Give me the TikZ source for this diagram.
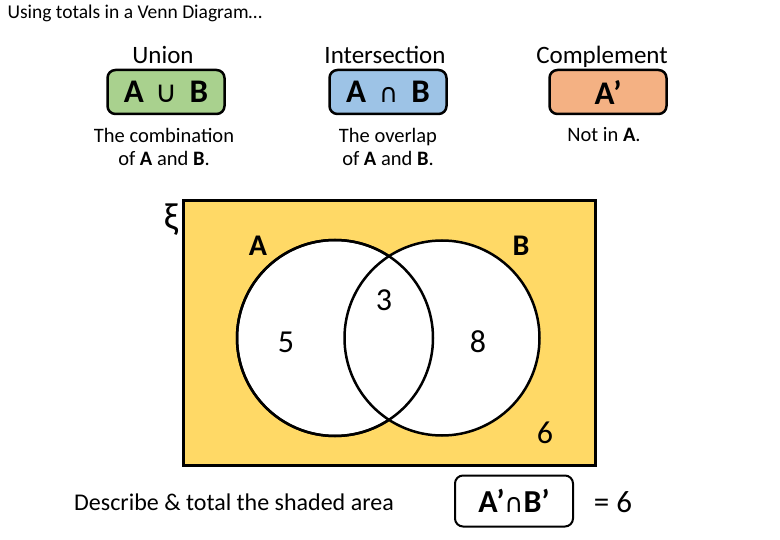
\documentclass[tikz,border=0pt]{standalone}
\usepackage{fontspec}
\setmainfont{Carlito}
\newfontfamily\symfont{DejaVu Sans}
\definecolor{vyellow}{HTML}{FFD966}
\definecolor{vgreen}{HTML}{A9D18E}
\definecolor{vblue}{HTML}{9DC3E6}
\definecolor{vorange}{HTML}{F4B183}
\tikzset{
  setbox/.style={draw=black, line width=2.5pt, rounded corners=8pt, minimum width=117pt, minimum height=44pt, font=\fontsize{33}{36}\selectfont\bfseries},
  heading/.style={anchor=base, font=\fontsize{25}{28}\selectfont},
  desc/.style={font=\fontsize{20.5}{23}\selectfont, align=center},
  num/.style={font=\fontsize{32}{34}\selectfont},
  setlabel/.style={font=\fontsize{30}{32}\selectfont\bfseries},
  vcircle/.style={draw=black, line width=2.5pt, fill=white}
}
\begin{document}
\begin{tikzpicture}[x=1pt,y=-1pt]
\useasboundingbox (0,0) rectangle (780,540);
\node[anchor=west, font=\fontsize{19.5}{22}\selectfont] (title) at (4,13) {Using totals in a Venn Diagram…};
% headings and boxes
\node[heading] (hu) at (163,64) {Union};
\node[heading] (hi) at (385,64) {Intersection};
\node[heading] (hc) at (602,64) {Complement};
\node[setbox, fill=vgreen] (bu) at (166,92) {A\hspace{12pt}{\symfont\mdseries\fontsize{30}{32}\selectfont ∪}\hspace{12pt}B};
\node[setbox, fill=vblue] (bi) at (388,92) {A\hspace{13pt}{\symfont\mdseries\fontsize{26}{30}\selectfont ∩}\hspace{13pt}B};
\node[setbox, fill=vorange] (bc) at (608,92) {A’};
\node[desc] (du) at (164,147) {The combination\\of \textbf{A} and \textbf{B}.};
\node[desc] (di) at (388,147) {The overlap\\of \textbf{A} and \textbf{B}.};
\node[desc, anchor=north] (dc) at (604,124) {Not in \textbf{A}.};
% universal set
\node[draw=black, line width=2.5pt, fill=vyellow, minimum width=412pt, minimum height=265pt, inner sep=0pt] (U) at (389.5,333) {};
\node[font=\fontsize{38}{40}\selectfont] (xi) at (171,220) {ξ};
\node[vcircle, circle, minimum size=196pt, inner sep=0pt] (A) at (335,338) {};
\node[vcircle, circle, minimum size=195pt, inner sep=0pt] (B) at (442,338) {};
\draw[line width=2.5pt] (A.center) circle[radius=98];
\node[setlabel] (la) at (258,246) {A};
\node[setlabel] (lb) at (521,246) {B};
\node[num] (n3) at (384,300) {3};
\node[num] (n5) at (286,342) {5};
\node[num] (n8) at (478,342) {8};
\node[num] (n6) at (545,433) {6};
% bottom
\node[font=\fontsize{24}{26}\selectfont] (q) at (234,502) {Describe \& total the shaded area};
\node[draw=black, line width=2pt, rounded corners=8pt, minimum width=118pt, minimum height=51pt, font=\fontsize{32}{34}\selectfont\bfseries] (ans) at (514,501) {A’{\symfont\mdseries\fontsize{26}{30}\selectfont ∩}B’};
\node[font=\fontsize{31}{33}\selectfont] (eq) at (613,502) {= 6};
\end{tikzpicture}
\end{document}
